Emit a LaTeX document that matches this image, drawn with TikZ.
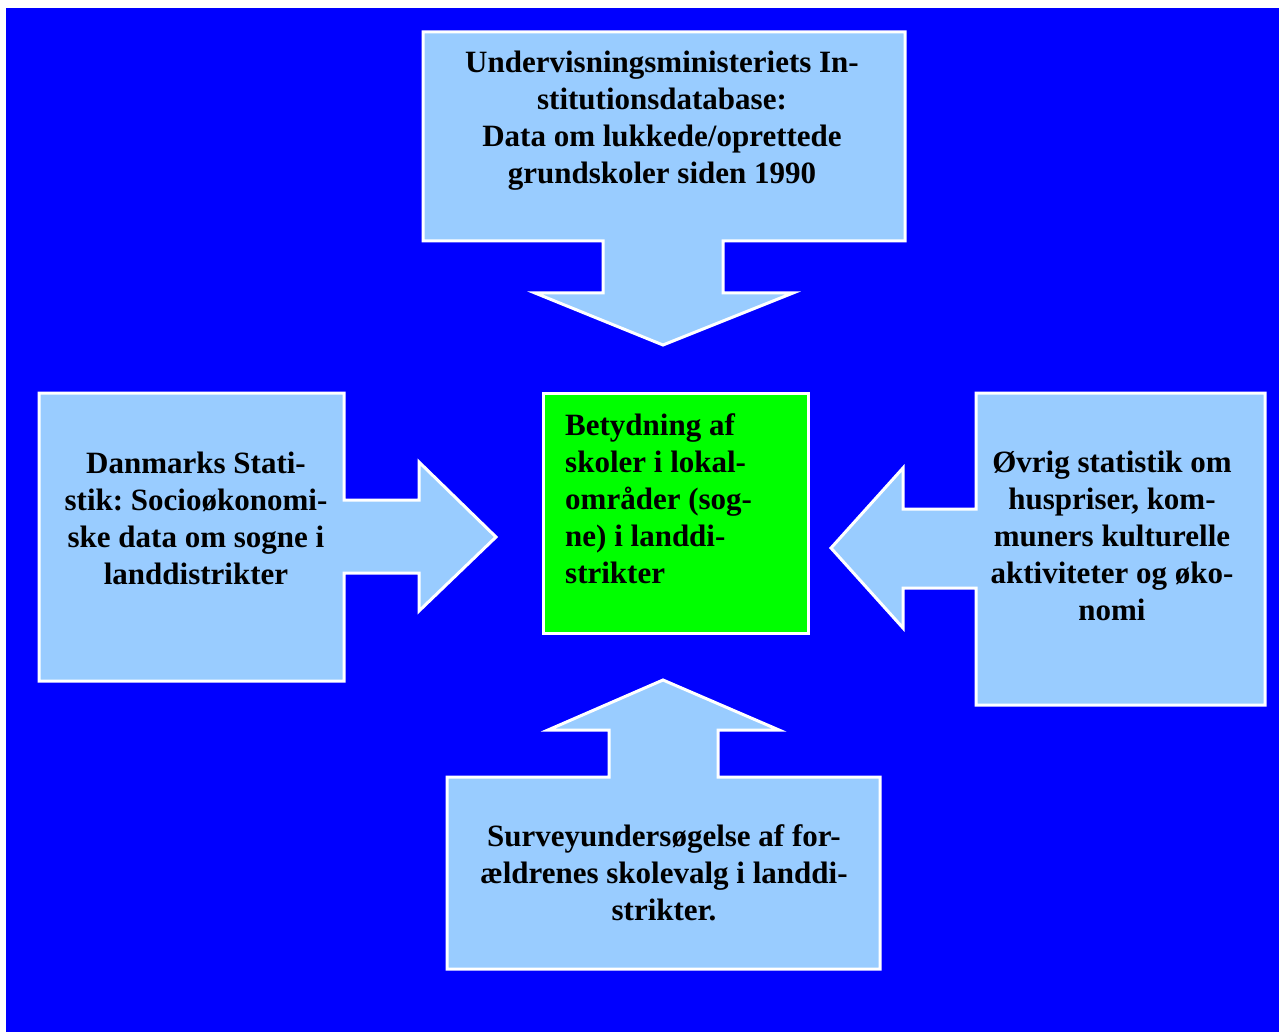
\documentclass[tikz,border=0pt]{standalone}
\usepackage{fontspec}
\setmainfont{Liberation Serif}
\definecolor{bgblue}{HTML}{0000FF}
\definecolor{callout}{HTML}{99CCFF}
\definecolor{centergreen}{HTML}{00FF00}
\begin{document}
\frenchspacing
\begin{tikzpicture}[x=1pt,y=-1pt,
  shapebox/.style={fill=callout,draw=white,line width=3pt,line join=miter},
  greenbox/.style={fill=centergreen,draw=white,line width=3pt},
  txt/.style={font=\fontsize{31}{37}\selectfont\bfseries,align=center,inner sep=0pt,text=black}]
\useasboundingbox (0,0) rectangle (1285,1032);
\fill[white] (0,0) rectangle (1285,1032);
\fill[bgblue] (6,8) rectangle (1279,1032);
% top callout
\path[shapebox] (423,32) -- (905,32) -- (905,241) -- (723,241) -- (723,293) -- (793,293) -- (663,345) -- (535,293) -- (603,293) -- (603,241) -- (423,241) -- cycle;
% left callout
\path[shapebox] (39,393) -- (344,393) -- (344,500) -- (419,500) -- (419,462) -- (496,537) -- (419,611) -- (419,573) -- (344,573) -- (344,681) -- (39,681) -- cycle;
% right callout
\path[shapebox] (976,393) -- (1265,393) -- (1265,705) -- (976,705) -- (976,588) -- (903,588) -- (903,628) -- (831,548) -- (903,468) -- (903,509) -- (976,509) -- cycle;
% bottom callout
\path[shapebox] (447,777) -- (609,777) -- (609,730) -- (548,730) -- (663,680) -- (779,730) -- (718,730) -- (718,777) -- (880,777) -- (880,969) -- (447,969) -- cycle;
% center
\path[greenbox] (543,393) rectangle (808,633);
% texts
\node[txt] (top) at (662,121) {Undervisningsministeriets In-\\stitutionsdatabase:\\Data om lukkede/oprettede\\grundskoler siden 1990};
\node[txt] (left) at (196,518) {Danmarks Stati-\\stik: Socioøkonomi-\\ske data om sogne i\\landdistrikter};
\node[txt,align=left,anchor=west] (center) at (565,499) {Betydning af\\skoler i lokal-\\områder (sog-\\ne) i landdi-\\strikter};
\node[txt] (right) at (1112,536) {Øvrig statistik om\\huspriser, kom-\\muners kulturelle\\aktiviteter og øko-\\nomi};
\node[txt] (bottom) at (664,873) {Surveyundersøgelse af for-\\ældrenes skolevalg i landdi-\\strikter.};
\end{tikzpicture}
\end{document}
